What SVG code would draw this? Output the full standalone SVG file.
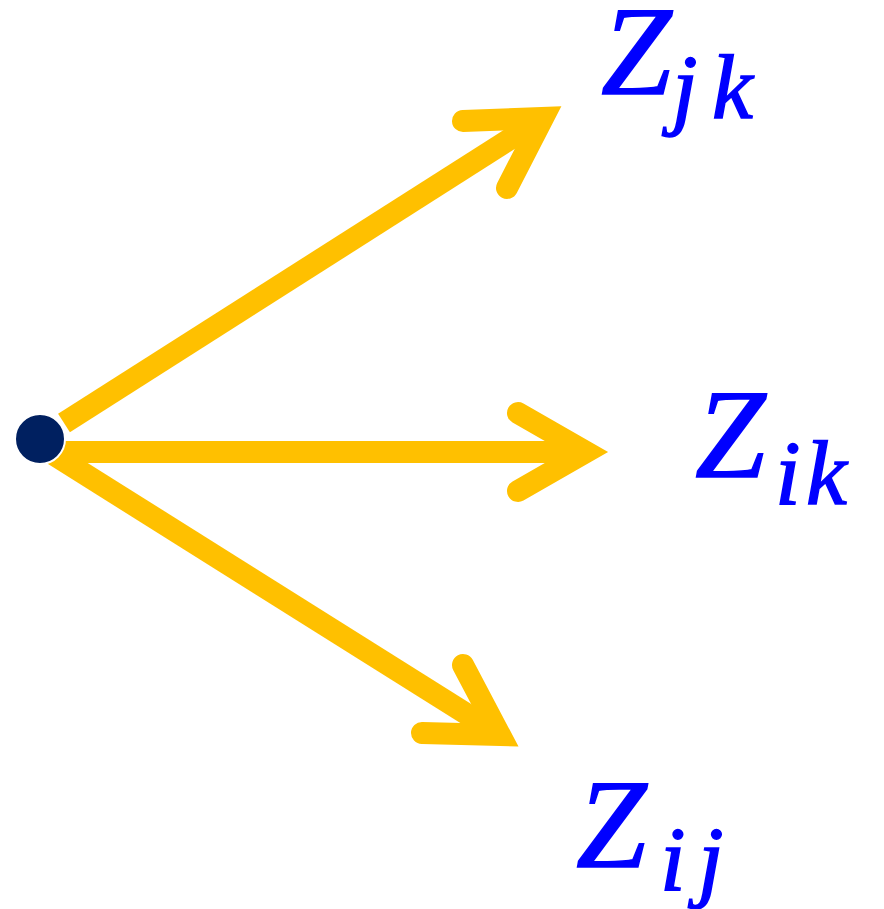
<svg xmlns="http://www.w3.org/2000/svg" width="884" height="909" viewBox="0 0 884 909">
<style>
.shaft{fill:none;stroke:#FFC000;stroke-width:22;stroke-linecap:butt}
.head{fill:none;stroke:#FFC000;stroke-width:22;stroke-linecap:round;stroke-linejoin:miter;stroke-miterlimit:10}
.lbl{font-family:"Liberation Serif","DejaVu Serif",serif;font-style:italic;fill:#0000FF;stroke:#0000FF;stroke-width:1.5}
.big{font-size:127px}
.sub{font-size:92px}
</style>
<rect width="884" height="909" fill="#FFFFFF"/>
<g id="connectors">
  <g id="arrow-jk">
    <path class="shaft" d="M64,423 L543,118"/>
    <path class="head" d="M463,121 L543,118 L507,188"/>
  </g>
  <g id="arrow-ik">
    <path class="shaft" d="M40,452 L586,452"/>
    <path class="head" d="M518,413 L586,452 L518,491"/>
  </g>
  <g id="arrow-ij">
    <path class="shaft" d="M40,446 L500,735"/>
    <path class="head" d="M463,665 L500,735 L422,733"/>
  </g>
</g>
<g id="origin">
  <circle cx="40" cy="439" r="25" fill="#002060" stroke="#FFFFFF" stroke-width="2"/>
</g>
<g id="label-Zjk">
  <text class="lbl big" x="601" y="94">Z</text>
  <text class="lbl sub" x="672" y="118">j</text>
  <text class="lbl sub" x="712" y="118">k</text>
</g>
<g id="label-Zik">
  <text class="lbl big" x="695" y="477">Z</text>
  <text class="lbl sub" x="775" y="504">i</text>
  <text class="lbl sub" x="806" y="504">k</text>
</g>
<g id="label-Zij">
  <text class="lbl big" x="576" y="867">Z</text>
  <text class="lbl sub" x="660" y="890">i</text>
  <text class="lbl sub" x="698" y="890">j</text>
</g>
</svg>
